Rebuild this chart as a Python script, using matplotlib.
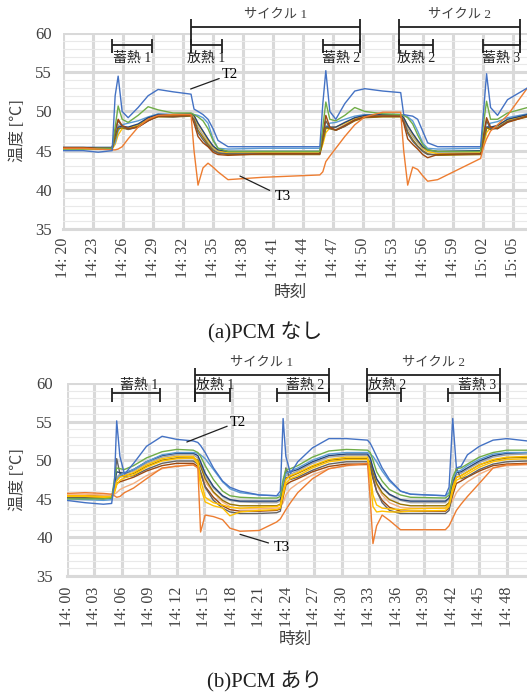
import matplotlib
matplotlib.use('Agg')
import matplotlib.pyplot as plt

plt.rcParams['font.family'] = ['Liberation Serif', 'Noto Sans CJK JP']

# ---------------------------------------------------------------------------
# (a) PCM なし  -- minutes after 14:20
# ---------------------------------------------------------------------------
a_tick_labels = ['14:20', '14:23', '14:26', '14:29', '14:32', '14:35', '14:38', '14:41',
                 '14:44', '14:47', '14:50', '14:53', '14:56', '14:59', '15:02', '15:05']
a_time = [0, 2, 3.5, 4.9, 5.2, 5.5, 5.9, 6.5, 7.5, 8.5,
          9.5, 11, 12.8, 13.1, 13.5, 14, 14.5, 15, 15.5, 16.5,
          20, 25.7, 26.0, 26.3, 26.7, 27.3, 28.2, 29.2, 30.2, 32,
          33.8, 34.1, 34.5, 35, 35.5, 36, 36.5, 37.5, 41.8, 42.1,
          42.4, 42.8, 43.5, 44.5, 46.5]

a_gray = [45.3, 45.3, 45.3, 45.3, 47.0, 48.3, 48.0, 47.8, 48.2, 49.0,
          49.5, 49.4, 49.6, 49.3, 48.0, 47.0, 46.0, 45.3, 44.9, 44.8,
          44.8, 44.8, 46.5, 48.2, 47.8, 47.7, 48.3, 49.0, 49.4, 49.5,
          49.5, 49.0, 47.8, 46.8, 46.0, 45.3, 44.9, 44.7, 44.8, 46.5,
          48.0, 47.8, 48.0, 48.8, 49.5]
a_gold = [45.2, 45.2, 45.2, 45.2, 45.8, 47.0, 47.8, 47.9, 48.3, 49.1,
          49.5, 49.5, 49.6, 49.4, 48.4, 47.4, 46.3, 45.5, 45.0, 44.7,
          44.7, 44.7, 45.8, 47.3, 47.9, 48.0, 48.5, 49.1, 49.4, 49.5,
          49.5, 49.2, 48.2, 47.1, 46.2, 45.4, 44.9, 44.6, 44.7, 45.8,
          47.3, 47.9, 48.2, 48.9, 49.5]
a_lightblue = [45.4, 45.4, 45.4, 45.4, 46.0, 47.5, 48.3, 48.5, 48.8, 49.3,
               49.7, 49.6, 49.7, 49.6, 49.5, 49.2, 48.5, 46.5, 45.3, 45.2,
               45.3, 45.3, 46.3, 47.8, 48.5, 48.6, 49.0, 49.4, 49.6, 49.6,
               49.6, 49.5, 49.3, 48.8, 47.5, 46.0, 45.3, 45.2, 45.3, 46.3,
               47.8, 48.5, 48.7, 49.2, 49.7]
a_darkblue = [45.4, 45.4, 45.4, 45.4, 46.8, 48.0, 48.1, 48.0, 48.4, 49.2,
              49.6, 49.6, 49.7, 49.5, 48.5, 47.5, 46.5, 45.6, 45.1, 44.9,
              44.9, 44.9, 46.5, 48.0, 48.0, 48.0, 48.6, 49.2, 49.5, 49.6,
              49.6, 49.2, 48.2, 47.2, 46.3, 45.5, 45.1, 44.9, 45.0, 46.6,
              48.0, 48.0, 48.2, 49.0, 49.6]
a_darkgold = [45.3, 45.3, 45.2, 45.2, 46.5, 47.8, 47.9, 47.7, 48.1, 48.9,
              49.3, 49.3, 49.4, 49.0, 47.6, 46.7, 45.8, 45.1, 44.7, 44.5,
              44.5, 44.5, 46.2, 47.9, 47.8, 47.6, 48.1, 48.8, 49.2, 49.3,
              49.3, 48.7, 47.4, 46.4, 45.6, 45.0, 44.6, 44.4, 44.5, 46.3,
              47.9, 47.7, 47.9, 48.7, 49.3]
a_darkgray = [45.3, 45.3, 45.3, 45.3, 47.5, 48.8, 48.1, 47.7, 48.0, 48.8,
              49.4, 49.3, 49.5, 48.9, 47.3, 46.4, 45.6, 45.0, 44.7, 44.6,
              44.6, 44.6, 46.8, 48.8, 47.9, 47.6, 48.1, 48.9, 49.3, 49.4,
              49.4, 48.8, 47.2, 46.2, 45.5, 44.9, 44.5, 44.5, 44.6, 46.8,
              48.8, 47.8, 47.8, 48.7, 49.4]
a_brown = [45.4, 45.4, 45.3, 45.3, 47.5, 49.0, 48.2, 47.8, 48.0, 48.8,
           49.4, 49.4, 49.5, 48.5, 46.8, 46.0, 45.5, 44.8, 44.5, 44.4,
           44.6, 44.6, 47.0, 49.5, 48.0, 47.6, 48.2, 48.9, 49.3, 49.4,
           49.4, 48.5, 46.5, 45.8, 45.2, 44.5, 44.1, 44.5, 44.6, 47.0,
           49.2, 48.0, 47.8, 48.6, 49.4]
a_green = [45.2, 45.2, 45.3, 45.3, 48.0, 50.7, 49.0, 48.6, 49.5, 50.6,
           50.2, 49.8, 49.8, 49.6, 49.3, 48.8, 47.8, 46.3, 45.3, 44.9,
           44.9, 44.9, 48.0, 51.2, 49.0, 48.8, 49.5, 50.5, 50.0, 49.7,
           49.6, 49.5, 49.2, 48.4, 47.0, 45.8, 45.1, 44.9, 44.9, 48.5,
           51.3, 49.0, 49.0, 49.8, 50.5]
a_T3 = [45.3, 45.3, 45.2, 45.1, 45.1, 45.2, 45.5, 46.5, 48.0, 49.0,
        49.5, 49.6, 49.6, 45.0, 40.6, 42.8, 43.4, 42.9, 42.3, 41.3,
        41.6, 41.9, 42.3, 43.6, 44.3, 45.3, 46.8, 48.3, 49.3, 49.9,
        49.9, 45.0, 40.6, 42.9, 42.6, 41.8, 41.1, 41.3, 44.0, 45.5,
        46.5, 47.5, 48.3, 49.5, 53.0]
a_T2 = [45.0, 45.0, 44.8, 45.0, 52.0, 54.5, 50.0, 49.2, 50.5, 52.0,
        52.8, 52.5, 52.2, 50.3, 50.0, 49.6, 49.0, 47.8, 46.3, 45.5,
        45.5, 45.5, 51.0, 55.2, 50.0, 49.0, 51.0, 52.6, 52.9, 52.6,
        52.4, 49.6, 49.5, 49.4, 49.0, 47.5, 46.0, 45.5, 45.5, 50.0,
        54.8, 50.5, 49.5, 51.5, 53.0]

a_cycles = [('サイクル 1', 12.76, 29.7), ('サイクル 2', 33.6, 45.7)]
a_phases = [('蓄熱 1', 4.9, 8.9), ('放熱 1', 12.76, 15.9), ('蓄熱 2', 26.0, 29.7),
            ('放熱 2', 33.6, 37.0), ('蓄熱 3', 42.0, 45.7)]

# ---------------------------------------------------------------------------
# (b) PCM あり  -- minutes after 14:00
# ---------------------------------------------------------------------------
b_tick_labels = ['14:00', '14:03', '14:06', '14:09', '14:12', '14:15', '14:18', '14:21', '14:24',
                 '14:27', '14:30', '14:33', '14:36', '14:39', '14:42', '14:45', '14:48']
b_time = [0, 2, 4, 4.9, 5.2, 5.45, 5.8, 6.3, 7.3, 8.7,
          10.4, 12, 13.8, 14.3, 14.6, 15.1, 16, 17, 17.8, 18.9,
          21, 22.9, 23.3, 23.6, 23.9, 24.4, 25.2, 26.8, 28.6, 30.5,
          32.8, 33.1, 33.4, 33.8, 34.4, 35.2, 36.4, 37.5, 41.3, 41.7,
          42.1, 42.5, 43.0, 43.7, 45.0, 46.5, 48.0, 50.2]

b_lightorange = [45.6, 45.6, 45.5, 45.5, 45.6, 45.8, 46.2, 46.5, 47.0, 48.0,
                 48.9, 49.3, 49.4, 49.1, 48.4, 47.2, 45.8, 44.6, 44.0, 43.7,
                 43.7, 43.8, 43.9, 44.5, 45.5, 46.3, 47.0, 48.1, 48.9, 49.3,
                 49.4, 49.0, 48.0, 46.8, 45.5, 44.5, 43.9, 43.8, 43.8, 44.0,
                 44.8, 45.8, 46.5, 47.2, 48.2, 49.0, 49.3, 49.4]
b_gray = [45.2, 45.2, 45.1, 45.2, 46.5, 47.8, 48.2, 48.2, 48.6, 49.6,
          50.4, 50.7, 50.7, 50.3, 49.5, 48.0, 46.4, 45.3, 44.8, 44.6,
          44.5, 44.5, 44.7, 46.8, 48.0, 48.2, 48.6, 49.6, 50.4, 50.6,
          50.6, 50.1, 48.8, 47.5, 46.4, 45.5, 44.8, 44.5, 44.5, 45.0,
          47.0, 48.1, 48.3, 48.8, 49.7, 50.4, 50.7, 50.8]
b_brown = [45.4, 45.4, 45.3, 45.3, 46.0, 47.0, 47.2, 47.4, 47.8, 48.6,
           49.3, 49.6, 49.6, 49.2, 48.3, 46.6, 45.2, 44.1, 43.6, 43.4,
           43.4, 43.5, 43.7, 45.2, 46.8, 47.2, 47.6, 48.5, 49.2, 49.5,
           49.5, 49.0, 47.6, 46.0, 44.8, 43.9, 43.4, 43.4, 43.4, 43.8,
           45.5, 47.0, 47.3, 47.8, 48.6, 49.3, 49.5, 49.6]
b_darkgold = [45.2, 45.2, 45.2, 45.2, 46.2, 47.5, 47.9, 48.0, 48.3, 49.2,
              50.0, 50.3, 50.3, 50.0, 49.2, 47.6, 45.9, 44.8, 44.3, 44.1,
              44.1, 44.1, 44.3, 46.3, 47.7, 47.9, 48.3, 49.2, 50.0, 50.2,
              50.2, 49.7, 48.4, 47.0, 45.8, 44.9, 44.3, 44.1, 44.1, 44.5,
              46.6, 47.8, 48.0, 48.5, 49.4, 50.0, 50.3, 50.4]
b_darkgray = [45.1, 45.1, 45.1, 45.1, 47.0, 50.2, 48.3, 47.8, 48.0, 48.8,
              49.6, 49.9, 49.9, 49.5, 48.5, 46.5, 44.8, 43.8, 43.3, 43.1,
              43.1, 43.2, 43.4, 46.0, 49.0, 47.5, 47.8, 48.7, 49.5, 49.8,
              49.8, 49.3, 47.8, 46.0, 44.5, 43.5, 43.1, 43.1, 43.1, 43.5,
              46.0, 49.0, 47.6, 47.9, 48.8, 49.5, 49.8, 49.9]
b_darkblue = [45.1, 45.1, 45.0, 45.1, 46.8, 48.5, 48.4, 48.3, 48.8, 49.8,
              50.6, 50.9, 50.9, 50.6, 49.8, 48.3, 46.6, 45.4, 44.9, 44.7,
              44.7, 44.7, 44.9, 47.0, 48.4, 48.5, 48.8, 49.8, 50.6, 50.8,
              50.8, 50.3, 49.0, 47.6, 46.5, 45.6, 44.9, 44.7, 44.7, 45.1,
              47.3, 48.4, 48.5, 49.0, 49.9, 50.6, 50.9, 51.0]
b_lightblue = [45.0, 44.9, 44.8, 44.9, 46.0, 47.5, 48.0, 48.4, 48.8, 49.8,
               50.7, 51.0, 51.0, 50.9, 50.7, 50.2, 48.8, 47.2, 46.3, 45.8,
               45.5, 45.4, 45.5, 47.0, 48.3, 48.6, 49.0, 50.0, 50.8, 51.0,
               51.0, 50.8, 50.5, 49.8, 48.6, 47.3, 46.0, 45.6, 45.4, 45.8,
               47.5, 48.5, 48.7, 49.3, 50.1, 50.8, 51.0, 51.0]
b_gold1 = [45.3, 45.3, 45.2, 45.2, 46.0, 47.3, 47.8, 48.0, 48.4, 49.4,
           50.2, 50.5, 50.5, 49.8, 47.5, 45.2, 44.5, 44.2, 43.9, 43.8,
           43.9, 44.0, 44.2, 46.0, 47.5, 48.0, 48.4, 49.3, 50.1, 50.4,
           50.4, 48.5, 45.5, 44.2, 43.8, 43.7, 43.6, 43.7, 43.8, 44.3,
           46.5, 47.8, 48.0, 48.5, 49.4, 50.1, 50.4, 50.5]
b_gold2 = [45.4, 45.4, 45.3, 45.3, 45.8, 46.8, 47.4, 47.7, 48.1, 49.1,
           49.9, 50.2, 50.3, 49.5, 46.5, 44.6, 44.1, 43.8, 42.8, 43.3,
           43.5, 43.6, 43.8, 45.5, 47.0, 47.6, 48.0, 49.0, 49.8, 50.1,
           50.1, 47.5, 44.0, 43.3, 43.4, 43.3, 43.3, 43.4, 43.5, 44.0,
           46.0, 47.4, 47.7, 48.2, 49.1, 49.8, 50.1, 50.2]
b_green = [45.0, 45.0, 45.0, 45.1, 47.5, 49.0, 48.9, 48.8, 49.3, 50.3,
           51.1, 51.4, 51.3, 51.0, 50.5, 49.3, 47.5, 46.0, 45.4, 45.2,
           45.1, 45.1, 45.3, 47.5, 48.8, 48.9, 49.3, 50.4, 51.2, 51.4,
           51.3, 51.0, 50.0, 48.5, 47.3, 46.2, 45.5, 45.2, 45.1, 45.5,
           47.8, 48.9, 49.0, 49.5, 50.4, 51.0, 51.3, 51.3]
b_T3 = [45.7, 45.8, 45.7, 45.6, 45.4, 45.2, 45.3, 45.8, 46.4, 47.6,
        49.0, 49.2, 49.4, 49.0, 40.7, 42.9, 42.7, 42.3, 41.2, 40.8,
        40.9, 42.0, 42.4, 43.0, 43.6, 44.5, 45.8, 47.6, 48.9, 49.3,
        49.6, 45.0, 39.2, 41.5, 42.9, 42.2, 41.0, 41.0, 41.0, 41.5,
        42.5, 43.5, 44.3, 45.3, 47.0, 49.0, 49.4, 49.5]
b_T2 = [44.8, 44.5, 44.3, 44.4, 47.0, 55.1, 50.5, 48.2, 49.6, 51.8,
        53.1, 52.7, 52.5, 52.3, 51.9, 51.0, 49.0, 47.3, 46.5, 46.0,
        45.5, 45.4, 46.0, 55.4, 50.5, 48.3, 49.8, 51.6, 52.8, 52.8,
        52.6, 52.2, 51.5, 50.5, 49.0, 47.5, 46.0, 45.6, 45.4, 46.5,
        55.4, 49.0, 49.2, 50.7, 51.8, 52.6, 52.8, 52.5]

b_cycles = [('サイクル 1', 14.0, 28.6), ('サイクル 2', 32.8, 47.3)]
b_phases = [('蓄熱 1', 4.94, 10.18), ('放熱 1', 14.0, 17.8), ('蓄熱 2', 22.9, 28.6),
            ('放熱 2', 32.8, 36.5), ('蓄熱 3', 41.6, 47.3)]

a_series = [(a_gray, '#A5A5A5'), (a_gold, '#FFC000'), (a_lightblue, '#5B9BD5'),
            (a_darkblue, '#264478'), (a_darkgold, '#997300'), (a_darkgray, '#636363'),
            (a_brown, '#9E480E'), (a_green, '#70AD47'), (a_T3, '#ED7D31'), (a_T2, '#4472C4')]
b_series = [(b_lightorange, '#F4B183'), (b_gray, '#A5A5A5'), (b_brown, '#9E480E'),
            (b_darkgold, '#997300'), (b_darkgray, '#636363'), (b_darkblue, '#264478'),
            (b_lightblue, '#5B9BD5'), (b_gold1, '#FFC000'), (b_gold2, '#FFC000'),
            (b_green, '#70AD47'), (b_T3, '#ED7D31'), (b_T2, '#4472C4')]

GRID = '#D9D9D9'


def draw_panel(ax, t, series, tick_labels, xmax, ypad, xpad):
    for vals, col in series:
        ax.plot(t, vals, color=col, lw=1.0)
    ax.set_xlim(0, xmax)
    ax.set_ylim(35, 60)
    ax.set_xticks([3 * i for i in range(len(tick_labels))])
    ax.set_xticklabels([s.replace(':', ': ') for s in tick_labels], rotation=90, fontsize=11.5)
    ax.set_yticks(range(35, 61, 5))
    ax.set_yticks(range(35, 61), minor=True)
    ax.tick_params(axis='y', which='major', length=0, pad=ypad, labelsize=12, colors='#404040')
    ax.tick_params(axis='x', which='major', length=0, pad=xpad, colors='#404040')
    ax.tick_params(which='minor', length=0)
    ax.grid(which='major', color=GRID, lw=2.2)
    ax.grid(which='minor', axis='y', color='#E9E9E9', lw=0.8)
    ax.set_axisbelow(True)
    for s in ['top', 'right', 'left']:
        ax.spines[s].set_visible(False)
    ax.spines['bottom'].set_color(GRID)
    ax.spines['bottom'].set_linewidth(2.2)


def bracket(ax, x0, x1, y, lo, hi):
    kw = dict(color='#202020', lw=1.3, clip_on=False, solid_capstyle='butt')
    ax.plot([x0, x1], [y, y], **kw)
    ax.plot([x0, x0], [lo, hi], **kw)
    ax.plot([x1, x1], [lo, hi], **kw)


fig = plt.figure(figsize=(5.27, 6.92), dpi=100)
ax1 = fig.add_axes([0.120, 0.669, 0.880, 0.2833])
ax2 = fig.add_axes([0.1266, 0.1676, 0.8734, 0.2789])

draw_panel(ax1, a_time, a_series, a_tick_labels, 46.45, 8, 6.5)
draw_panel(ax2, b_time, b_series, b_tick_labels, 50.2, 10, 7.7)

# annotations (a)
for name, x0, x1 in a_cycles:
    bracket(ax1, x0, x1, 60.77, 58.47, 61.8)
    ax1.text((x0 + x1) / 2, 62.3, name, ha='center', va='center', fontsize=9.5,
             color='#404040', clip_on=False)
for name, x0, x1 in a_phases:
    bracket(ax1, x0, x1, 58.47, 57.45, 59.2)
    ax1.text((x0 + x1) / 2, 56.75, name, ha='center', va='center', fontsize=10, color='#202020')
ax1.annotate('T2', xy=(12.76, 52.86), xytext=(15.9, 54.7), fontsize=10.5, va='center',
             arrowprops=dict(arrowstyle='-', lw=0.9, color='#202020', shrinkA=0, shrinkB=0))
ax1.annotate('T3', xy=(17.7, 41.76), xytext=(21.2, 39.1), fontsize=10.5, va='center',
             arrowprops=dict(arrowstyle='-', lw=0.9, color='#202020', shrinkA=2, shrinkB=0))

# annotations (b)
for name, x0, x1 in b_cycles:
    bracket(ax2, x0, x1, 61.04, 57.54, 61.94)
    ax2.text((x0 + x1) / 2, 62.6, name, ha='center', va='center', fontsize=9.5,
             color='#404040', clip_on=False)
for name, x0, x1 in b_phases:
    bracket(ax2, x0, x1, 58.7, 57.54, 59.35)
    ax2.text((x0 + x1) / 2 + 0.3, 59.75, name, ha='center', va='center', fontsize=10,
             color='#202020', clip_on=False)
ax2.annotate('T2', xy=(13.1, 52.36), xytext=(17.8, 54.95), fontsize=10.5, va='center',
             arrowprops=dict(arrowstyle='-', lw=0.9, color='#202020', shrinkA=0, shrinkB=0))
ax2.annotate('T3', xy=(18.9, 40.4), xytext=(22.6, 38.75), fontsize=10.5, va='center',
             arrowprops=dict(arrowstyle='-', lw=0.9, color='#202020', shrinkA=2, shrinkB=0))

# labels and captions
fig.text(18 / 527, 1 - 131 / 692, '温度 [℃]', rotation=90, ha='center', va='center',
         fontsize=11.5, color='#404040')
fig.text(18 / 527, 1 - 480 / 692, '温度 [℃]', rotation=90, ha='center', va='center',
         fontsize=11.5, color='#404040')
fig.text(290 / 527, 1 - 293 / 692, '時刻', ha='center', va='center', fontsize=12, color='#404040')
fig.text(295 / 527, 1 - 640 / 692, '時刻', ha='center', va='center', fontsize=12, color='#404040')
fig.text(265 / 527, 1 - 333 / 692, '(a)PCM なし', ha='center', va='center', fontsize=15,
         color='#202020')
fig.text(265 / 527, 1 - 682 / 692, '(b)PCM あり', ha='center', va='center', fontsize=15,
         color='#202020')

fig.savefig('out.png', dpi=100)
